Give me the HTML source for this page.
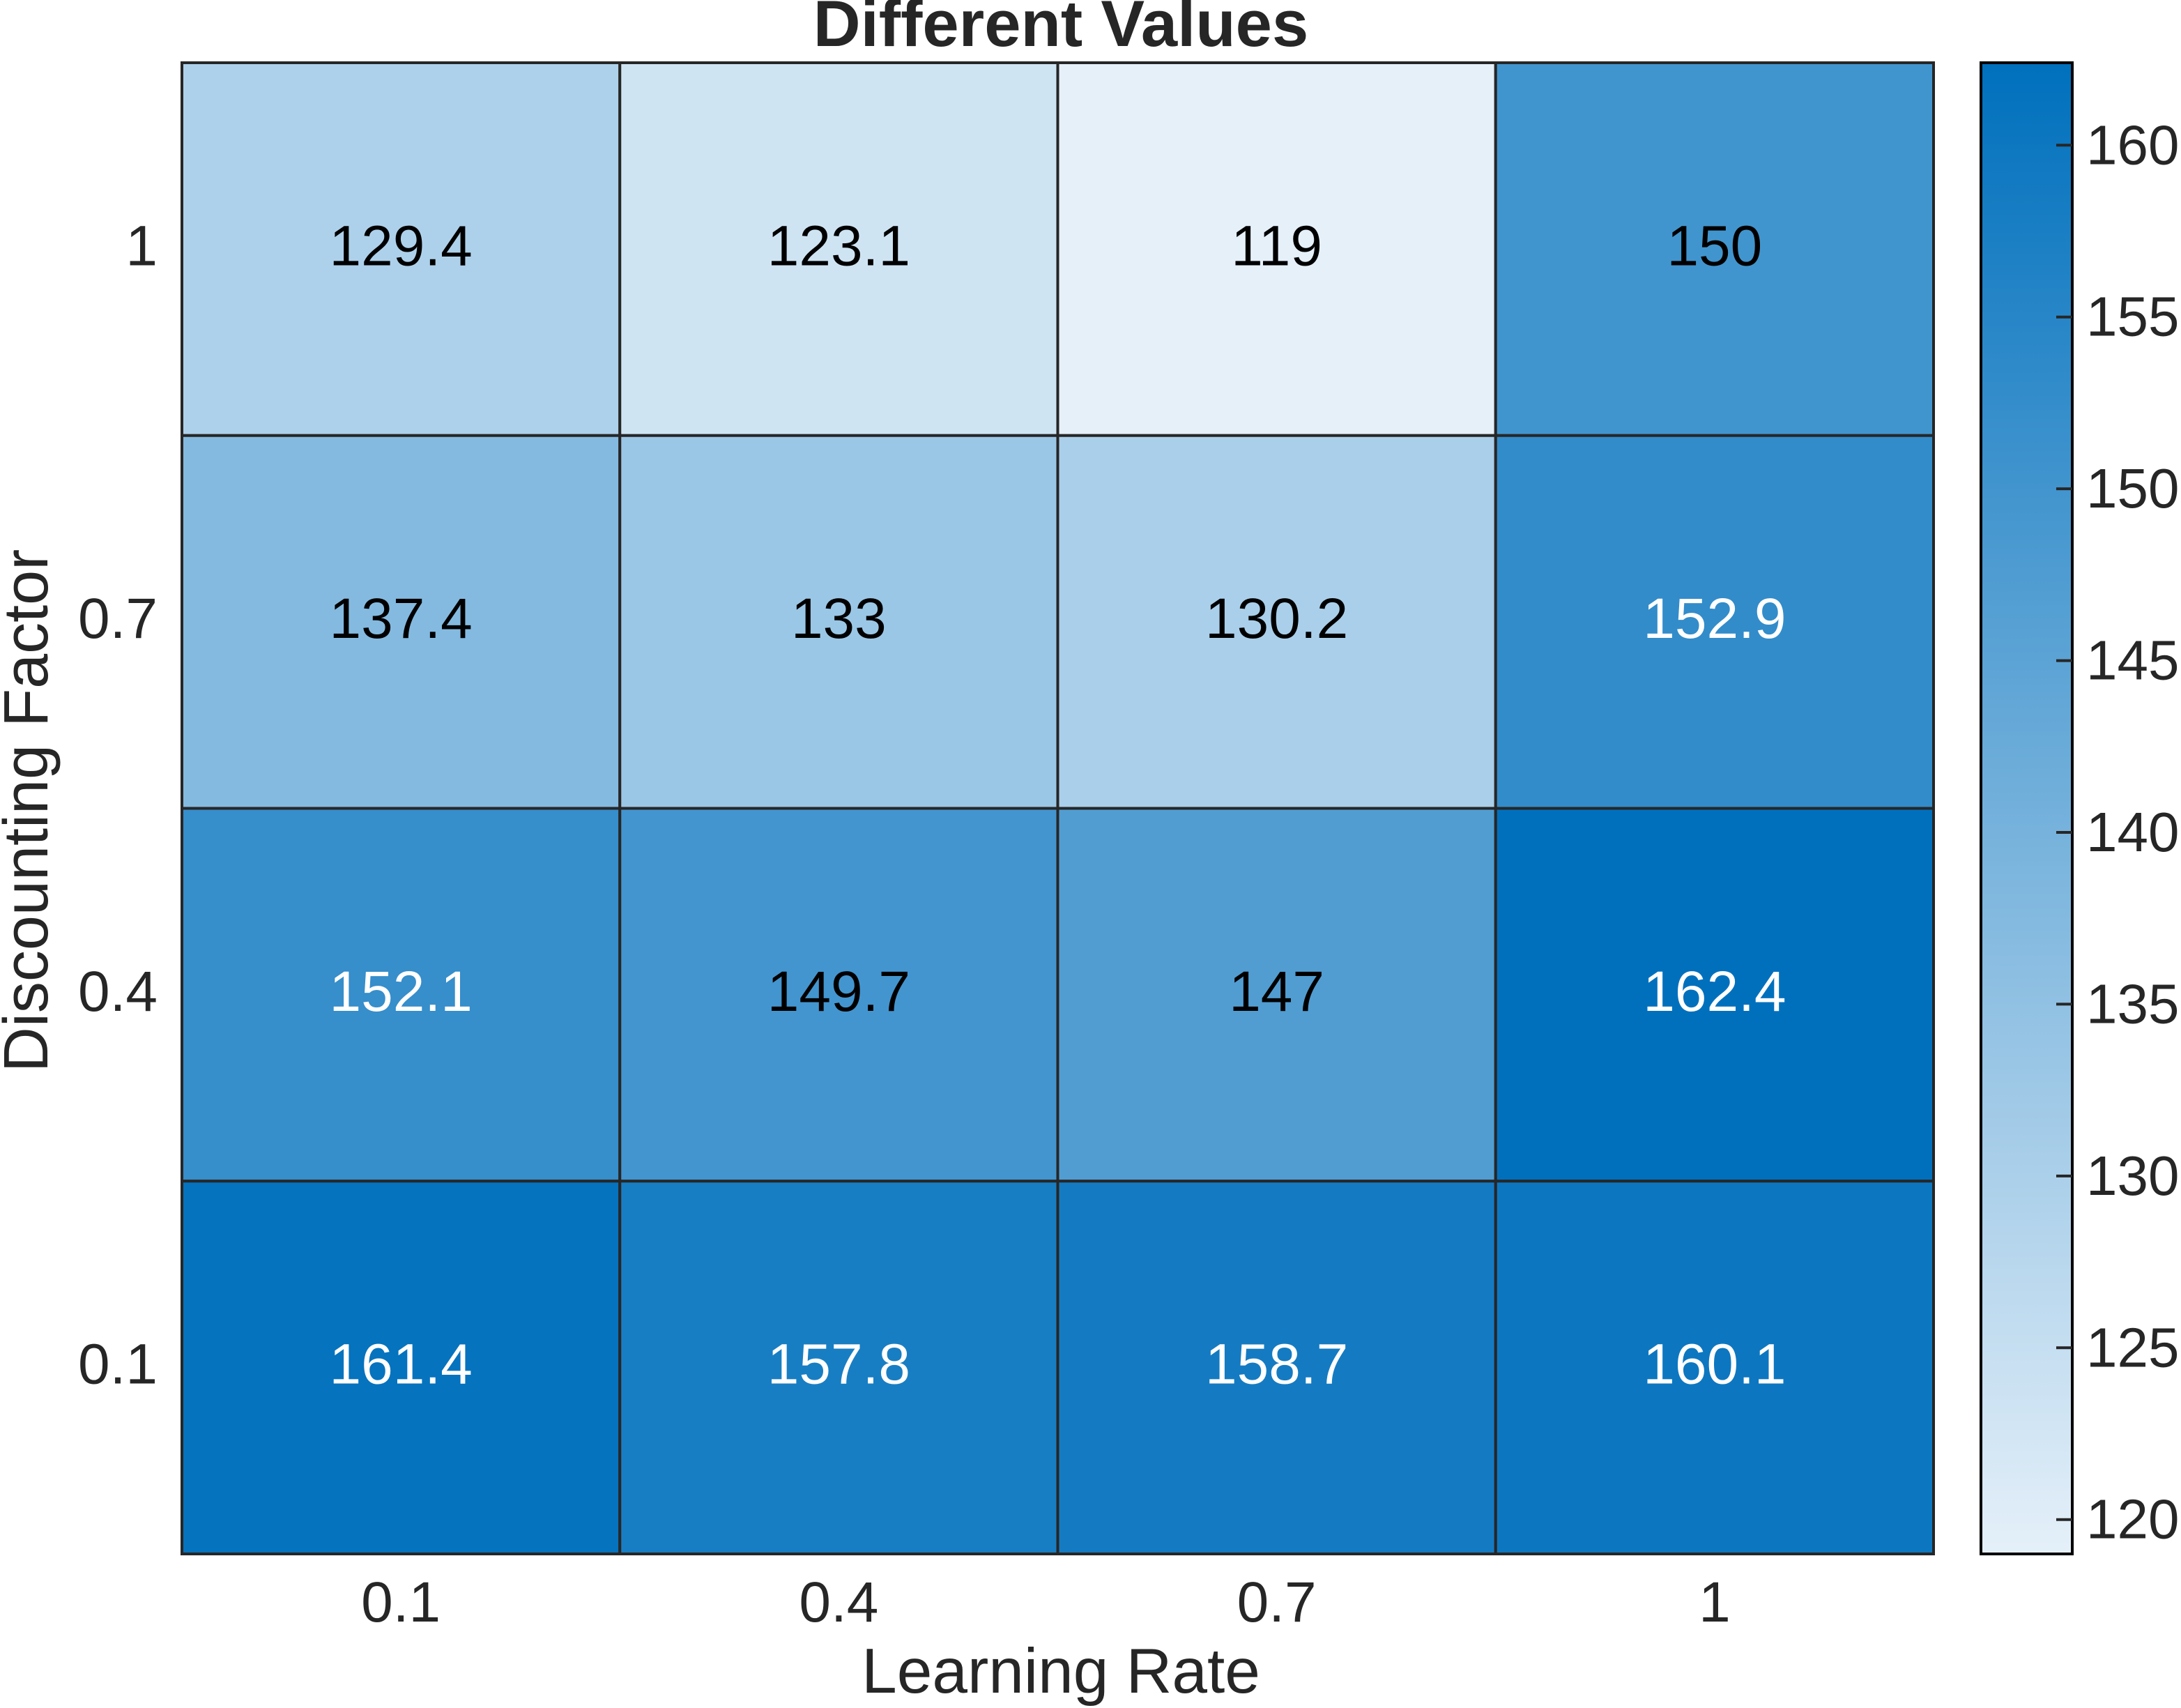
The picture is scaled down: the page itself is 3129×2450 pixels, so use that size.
<!DOCTYPE html>
<html><head><meta charset="utf-8"><style>html,body{margin:0;padding:0;background:#fff}svg{display:block}text{font-family:"Liberation Sans",Arial,sans-serif}</style></head>
<body>
<svg id="chart" width="3129" height="2450" viewBox="0 0 3129 2450" xmlns="http://www.w3.org/2000/svg">
<defs><linearGradient id="cbg" x1="0" y1="1" x2="0" y2="0"><stop offset="0" stop-color="#E5F0F9"/><stop offset="1" stop-color="#0070BD"/></linearGradient></defs>
<text x="1522" y="66" font-size="94" font-weight="bold" text-anchor="middle" fill="#262626">Different Values</text>
<g id="cells"></g>
<g id="ticks"></g>
<text x="1522" y="2428" font-size="91" text-anchor="middle" fill="#262626">Learning Rate</text>
<text transform="translate(68,1163) rotate(-90)" font-size="90" text-anchor="middle" fill="#262626">Discounting Factor</text>
<rect x="2842" y="90" width="131" height="2139" fill="url(#cbg)" stroke="#000" stroke-width="4"/>
<g id="cbticks"></g>
</svg>
<script>
const xCats=["0.1","0.4","0.7","1"];
const yCats=["1","0.7","0.4","0.1"];
const row0=[129.4,123.1,119,150];
const row1=[137.4,133,130.2,152.9];
const row2=[152.1,149.7,147,162.4];
const row3=[161.4,157.8,158.7,160.1];
const cbTicks=[120,125,130,135,140,145,150,155,160];
const vals=[row0,row1,row2,row3];
const L=261,R=2774,T=90,B=2229;
const vmin=119,vmax=162.4;
const cw=(R-L)/xCats.length,ch=(B-T)/yCats.length;
const NS="http://www.w3.org/2000/svg";
function col(v){const t=Math.max(0,Math.min(1,(v-vmin)/(vmax-vmin)));
const a=[229,240,249],b=[0,112,189];return`rgb(${a.map((c,i)=>Math.round(c+(b[i]-c)*t)).join(',')})`;}
function mk(tag,attrs,parent){const e=document.createElementNS(NS,tag);for(const k in attrs)e.setAttribute(k,attrs[k]);parent.appendChild(e);return e;}
const cells=document.getElementById('cells'),ticks=document.getElementById('ticks'),cbt=document.getElementById('cbticks');
vals.forEach((row,r)=>row.forEach((v,c)=>{
 const rc=mk('rect',{x:L+c*cw,y:T+r*ch,width:cw,height:ch,fill:col(v),stroke:'#262626','stroke-width':4},cells);
 
 
 const tx=mk('text',{x:L+(c+.5)*cw,y:T+(r+.5)*ch+23,'font-size':82,'text-anchor':'middle',fill:v>150?'#fff':'#000'},cells);
 tx.textContent=String(v);
 
 
}));
xCats.forEach((s,i)=>{const t=mk('text',{x:L+(i+.5)*cw,y:2326,'font-size':82,'text-anchor':'middle',fill:'#262626'},ticks);t.textContent=s;
 
 });
yCats.forEach((s,i)=>{const t=mk('text',{x:226,y:T+(i+.5)*ch+23,'font-size':82,'text-anchor':'end',fill:'#262626'},ticks);t.textContent=s;
 
 });
cbTicks.forEach(v=>{const y=B-(v-vmin)/(vmax-vmin)*(B-T);
 const l=mk('line',{x1:2950,x2:2973,y1:y,y2:y,stroke:'#262626','stroke-width':4},cbt);
 
 
 const t=mk('text',{x:2993,y:y+27,'font-size':80,fill:'#262626'},cbt);t.textContent=String(v);
 
 });
</script>
</body></html>
